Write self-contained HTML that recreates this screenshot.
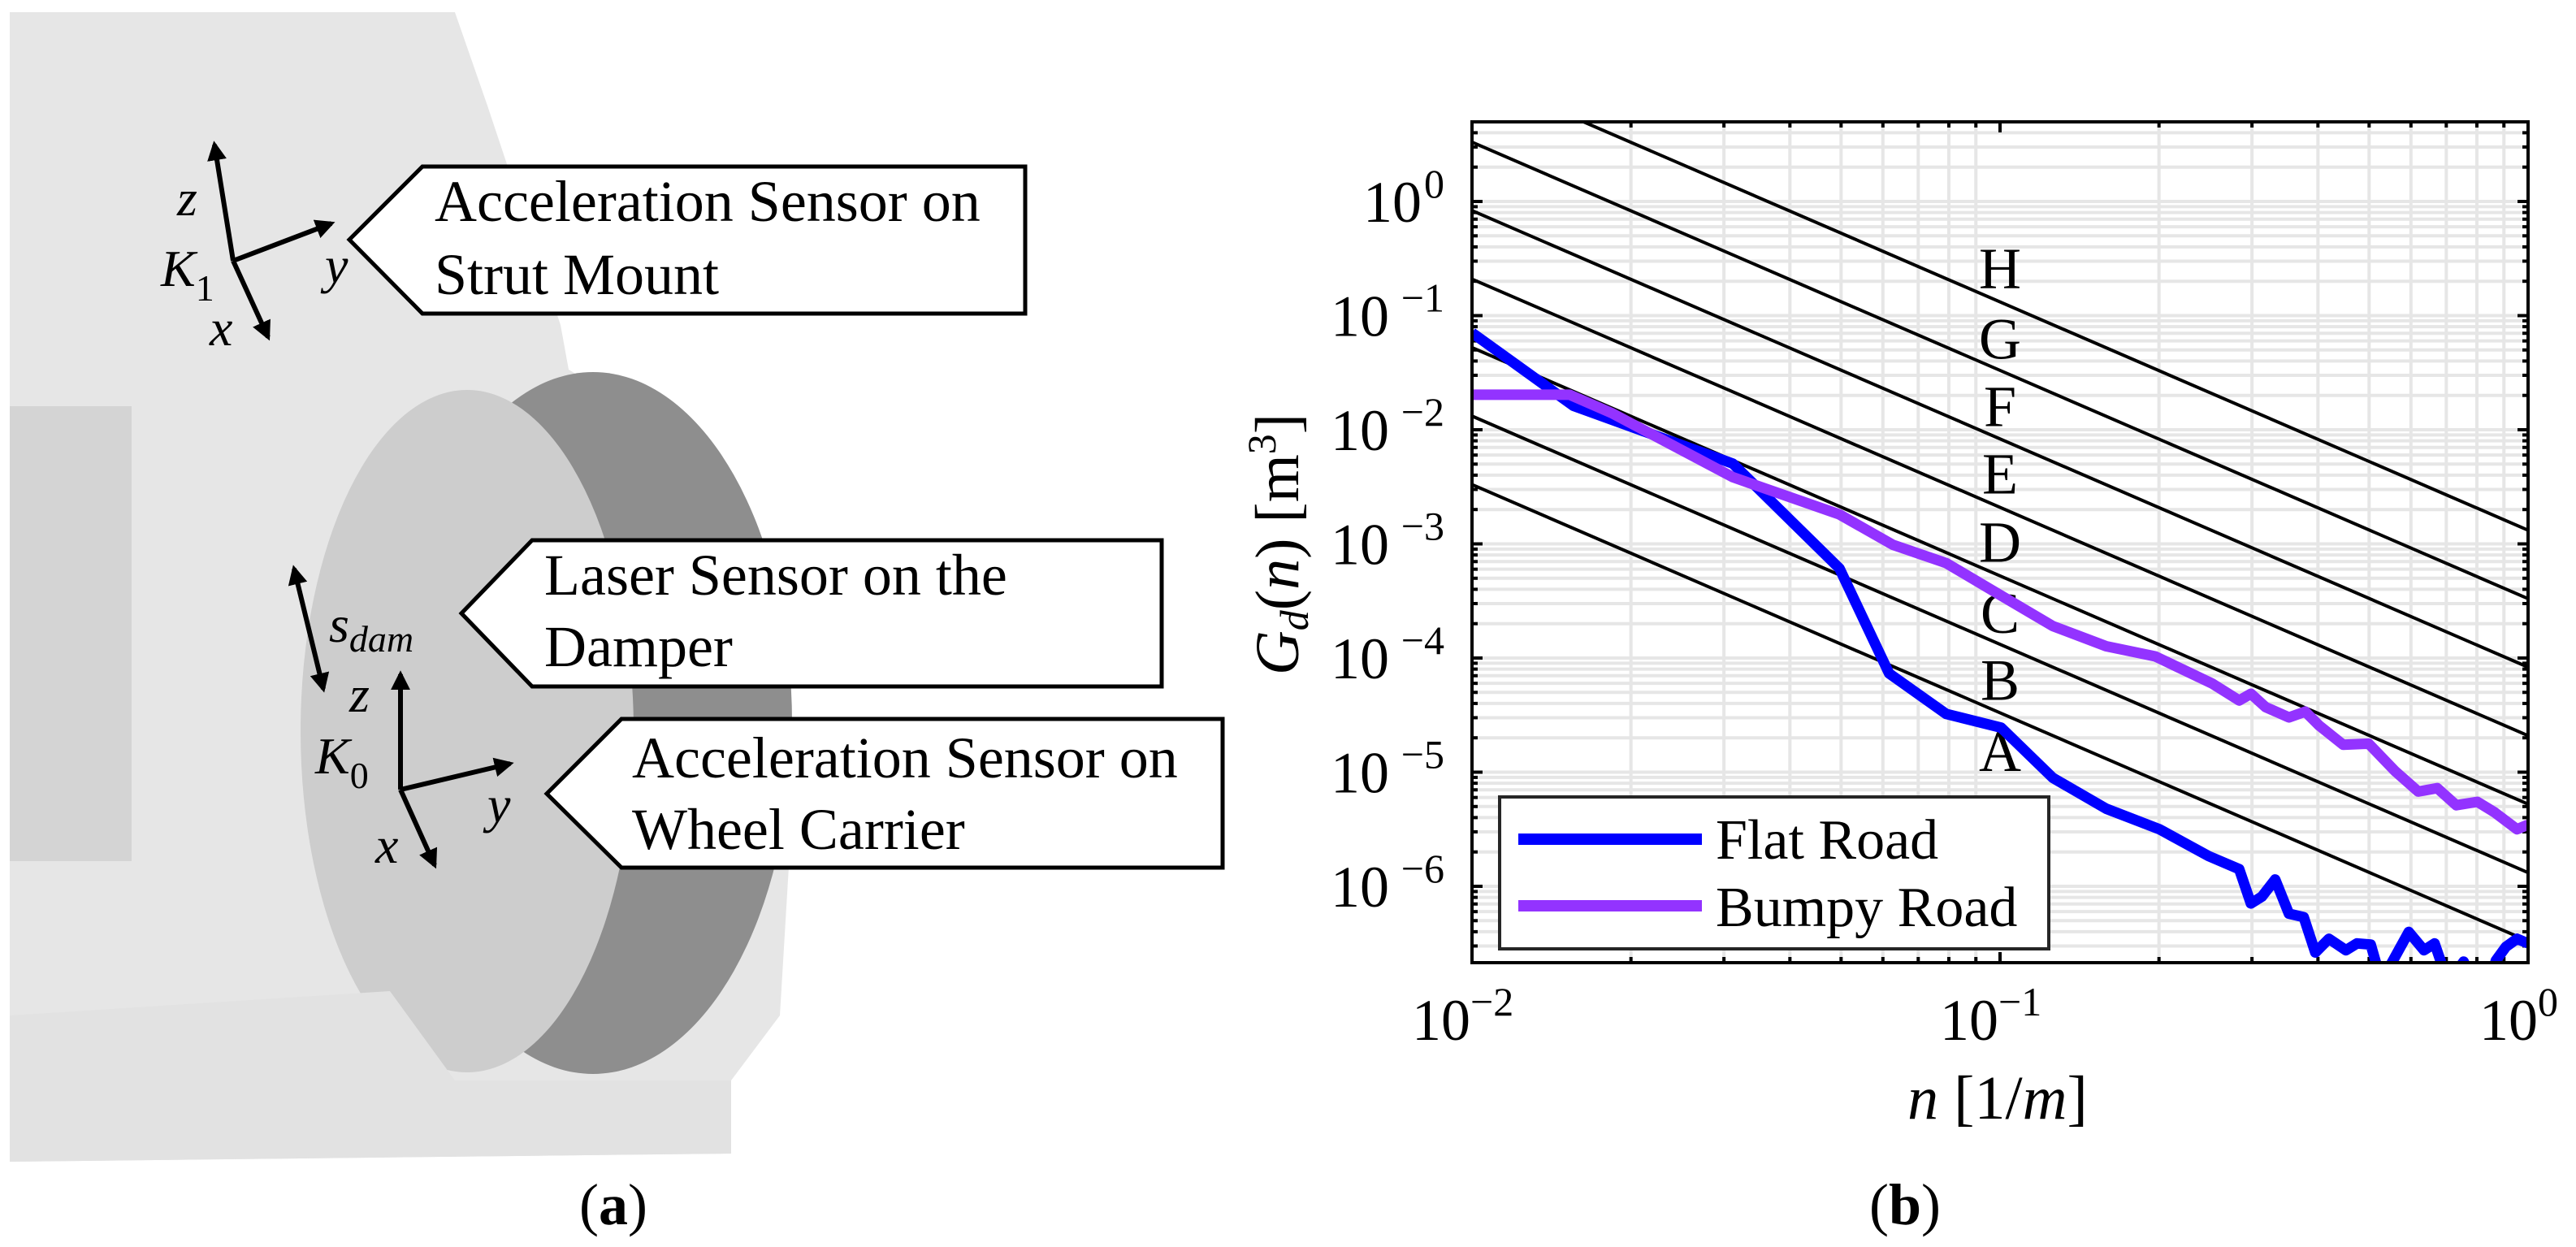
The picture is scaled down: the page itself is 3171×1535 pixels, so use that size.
<!DOCTYPE html>
<html><head><meta charset="utf-8"><style>
html,body{margin:0;padding:0;background:#fff;}
svg{display:block;}
text{font-family:"Liberation Serif",serif;}
</style></head><body>
<svg id="fig" width="3171" height="1535" viewBox="0 0 3171 1535" xmlns="http://www.w3.org/2000/svg">
<defs>
<marker id="ah" viewBox="0 0 10 10" refX="8" refY="5" markerWidth="4" markerHeight="4" orient="auto-start-reverse"><path d="M0,0 L10,5 L0,10 z" fill="#000"/></marker>
<clipPath id="plotclip"><rect x="1812" y="150" width="1300" height="1035"/></clipPath>
</defs>
<g>
<polygon points="12,15 560,15 600,130 690,400 700,455 880,560 960,800 975,1000 960,1250 900,1330 900,1420 12,1430" fill="#e6e6e6"/>
<ellipse cx="730" cy="890" rx="245" ry="432" fill="#8e8e8e"/>
<ellipse cx="575" cy="900" rx="205" ry="420" fill="#cdcdcd"/>
<polygon points="12,1250 480,1220 560,1330 900,1330 900,1420 12,1430" fill="#e2e2e2"/>
<rect x="12" y="500" width="150" height="560" fill="#d4d4d4"/>
</g>
<g stroke="#000" stroke-width="6" fill="none">
<line x1="287" y1="321" x2="264" y2="178" marker-end="url(#ah)"/>
<line x1="287" y1="321" x2="408" y2="275" marker-end="url(#ah)"/>
<line x1="287" y1="321" x2="330" y2="415" marker-end="url(#ah)"/>
<line x1="362" y1="700" x2="398" y2="848" marker-start="url(#ah)" marker-end="url(#ah)"/>
<line x1="493" y1="972" x2="493" y2="830" marker-end="url(#ah)"/>
<line x1="493" y1="972" x2="628" y2="940" marker-end="url(#ah)"/>
<line x1="493" y1="972" x2="535" y2="1065" marker-end="url(#ah)"/>
</g>
<g font-size="64" font-style="italic">
<text x="218" y="265">z</text>
<text x="198" y="352">K<tspan font-size="46" font-style="normal" dy="18">1</tspan></text>
<text x="400" y="348">y</text>
<text x="258" y="425">x</text>
<text x="405" y="790">s<tspan font-size="46" dy="12">dam</tspan></text>
<text x="430" y="876">z</text>
<text x="388" y="952">K<tspan font-size="46" font-style="normal" dy="18">0</tspan></text>
<text x="600" y="1012">y</text>
<text x="462" y="1062">x</text>
</g>
<g>
<polygon points="430,295 520,205 1262,205 1262,386 520,386" fill="#fff" stroke="#000" stroke-width="5"/>
<text x="535" y="272" font-size="72">Acceleration Sensor on</text>
<text x="535" y="362" font-size="72">Strut Mount</text>
</g>
<g>
<polygon points="568,755 655,665 1430,665 1430,845 655,845" fill="#fff" stroke="#000" stroke-width="5"/>
<text x="670" y="732" font-size="72">Laser Sensor on the</text>
<text x="670" y="820" font-size="72">Damper</text>
</g>
<g>
<polygon points="673,977 765,885 1505,885 1505,1068 765,1068" fill="#fff" stroke="#000" stroke-width="5"/>
<text x="778" y="957" font-size="72">Acceleration Sensor on</text>
<text x="778" y="1045" font-size="72">Wheel Carrier</text>
</g>
<text x="755" y="1507" font-size="72" text-anchor="middle">(<tspan font-weight="bold">a</tspan>)</text>
<text x="2345" y="1507" font-size="72" text-anchor="middle">(<tspan font-weight="bold">b</tspan>)</text>
<g id="chart"></g>
</svg>
<script>
const xTickExp = [-2, -1, 0];
const yTickExp = [0, -1, -2, -3, -4, -5, -6];
const classBoundaryLogAt01 = [-4.48, -3.88, -3.28, -2.68, -2.08, -1.48, -0.88];
const classLabels = ["A", "B", "C", "D", "E", "F", "G", "H"];
const classLabelLog = [-4.81, -4.19, -3.6, -2.98, -2.38, -1.79, -1.2, -0.58];
const flatLogN = [-2.0,-1.808,-1.506,-1.304,-1.21,-1.102,-0.998,-0.90,-0.799,-0.698,-0.605,-0.547,-0.525,-0.504,-0.479,-0.453,-0.425,-0.403,-0.377,-0.345,-0.324,-0.298,-0.28,-0.263,-0.226,-0.197,-0.177,-0.151,-0.122,-0.10,-0.07,-0.061,-0.042,-0.021,0.0];
const flatLogG = [-1.15,-1.79,-2.297,-3.216,-4.135,-4.49,-4.61,-5.05,-5.32,-5.50,-5.735,-5.85,-6.15,-6.09,-5.94,-6.24,-6.27,-6.58,-6.46,-6.56,-6.50,-6.51,-6.8,-6.71,-6.40,-6.56,-6.50,-6.85,-6.66,-6.9,-6.8,-6.65,-6.53,-6.46,-6.50];
const bumpyLogN = [-2.0,-1.815,-1.736,-1.506,-1.304,-1.203,-1.102,-0.998,-0.90,-0.799,-0.706,-0.598,-0.547,-0.525,-0.497,-0.453,-0.422,-0.396,-0.35,-0.302,-0.252,-0.208,-0.172,-0.136,-0.096,-0.064,-0.021,0.0];
const bumpyLogG = [-1.693,-1.693,-1.853,-2.416,-2.742,-3.008,-3.168,-3.453,-3.72,-3.897,-3.986,-4.224,-4.372,-4.313,-4.43,-4.52,-4.47,-4.59,-4.76,-4.75,-4.99,-5.17,-5.14,-5.29,-5.26,-5.35,-5.50,-5.46];

const X0=1812, X1=3112, Y0=150, Y1=1185;
const XMIN=-2, XMAX=0, YMAX=(248-150)/140.5, YMIN=YMAX-(Y1-Y0)/140.5;
function sx(l){return X0+(l-XMIN)/(XMAX-XMIN)*(X1-X0);}
function sy(l){return Y0+(YMAX-l)/(YMAX-YMIN)*(Y1-Y0);}
const NS="http://www.w3.org/2000/svg";
const chart=document.getElementById('chart');
function mk(tag,attrs,parent){const e=document.createElementNS(NS,tag);for(const k in attrs)e.setAttribute(k,attrs[k]);(parent||chart).appendChild(e);return e;}

const grid=mk('g',{});


const ticks=mk('g',{});


for(let d=XMIN; d<XMAX; d++){
  for(let m=1;m<10;m++){
    const l=d+Math.log10(m), x=sx(l);
    if(m>1){const g=mk('line',{x1:x,y1:Y0,x2:x,y2:Y1,stroke:'#e6e6e6','stroke-width':4},grid);
    
    }
    const len=m===1?13:7;
    mk('line',{x1:x,y1:Y1,x2:x,y2:Y1-len,stroke:'#000','stroke-width':4},ticks);
    mk('line',{x1:x,y1:Y0,x2:x,y2:Y0+len,stroke:'#000','stroke-width':4},ticks);
  }
}
for(let d=Math.floor(YMIN); d<Math.ceil(YMAX); d++){
  for(let m=1;m<10;m++){
    const l=d+Math.log10(m); if(l<YMIN||l>YMAX) continue; const y=sy(l);
    const g=mk('line',{x1:X0,y1:y,x2:X1,y2:y,stroke:'#e6e6e6','stroke-width':4},grid);
    
    
    const len=m===1?13:7;
    mk('line',{x1:X0,y1:y,x2:X0+len,y2:y,stroke:'#000','stroke-width':4},ticks);
    mk('line',{x1:X1,y1:y,x2:X1-len,y2:y,stroke:'#000','stroke-width':4},ticks);
  }
}
const cls=mk('g',{'clip-path':'url(#plotclip)'});


classBoundaryLogAt01.forEach(v=>{
  const f=l=>v-2*(l+1);
  const ln=mk('line',{x1:sx(-2),y1:sy(f(-2)),x2:sx(0),y2:sy(f(0)),stroke:'#000','stroke-width':4},cls);
  
  
});
classLabels.forEach((t,i)=>{
  const tx=mk('text',{x:sx(-1),y:sy(classLabelLog[i])+25,'font-size':72,'text-anchor':'middle'},cls);
  tx.textContent=t;
  
  
});
const ser=mk('g',{'clip-path':'url(#plotclip)'});
function line(ns,gs,color,name){
  const p=ns.map((n,i)=>sx(n).toFixed(1)+','+sy(gs[i]).toFixed(1)).join(' ');
  const pl=mk('polyline',{points:p,fill:'none',stroke:color,'stroke-width':13,'stroke-linejoin':'round'},ser);
  
  
}
line(flatLogN,flatLogG,'#0000ff','flat-road-line');
line(bumpyLogN,bumpyLogG,'#9333ff','bumpy-road-line');
const bd=mk('rect',{x:X0,y:Y0,width:X1-X0,height:Y1-Y0,fill:'none',stroke:'#000','stroke-width':4});


xTickExp.forEach(e=>{
  const x=sx(e);
  const t=mk('text',{x:x+(e<0?-2:12),y:1280,'font-size':72,'text-anchor':'end'});
  t.textContent='10';
  
  
  const s=mk('text',{x:x+(e<0?-2:12),y:1250,'font-size':50,'text-anchor':'start'});
  s.textContent=e===0?'0':'\u2212'+(-e);
  
  
});
yTickExp.forEach(e=>{
  const y=sy(e);
  const sup=e===0?'0':'\u2212'+(-e);
  const s=mk('text',{x:1778,y:y-5,'font-size':50,'text-anchor':'end'});
  s.textContent=sup;
  
  
  const w=e===0?28:68;
  const t=mk('text',{x:1778-w,y:y+25,'font-size':72,'text-anchor':'end'});
  t.textContent='10';
  
  
});
const xt=mk('text',{x:2459,y:1377,'font-size':76,'text-anchor':'middle'});
xt.innerHTML='<tspan font-style="italic">n</tspan> [1/<tspan font-style="italic">m</tspan>]';


const yt=mk('text',{x:0,y:0,'font-size':76,'text-anchor':'middle',transform:'translate(1598,670) rotate(-90)'});
yt.innerHTML='<tspan font-style="italic">G</tspan><tspan font-style="italic" font-size="50" dy="12">d</tspan><tspan dy="-12">(</tspan><tspan font-style="italic">n</tspan>) [m<tspan font-size="50" dy="-28">3</tspan><tspan dy="28">]</tspan>';


const lg=mk('g',{});


mk('rect',{x:1846,y:981,width:676,height:187,fill:'#fff',stroke:'#262626','stroke-width':4},lg);
const e1=mk('line',{x1:1869,y1:1033,x2:2095,y2:1033,stroke:'#0000ff','stroke-width':14},lg);


const t1=mk('text',{x:2112,y:1057,'font-size':70},lg);t1.textContent='Flat Road';
const e2=mk('line',{x1:1869,y1:1115,x2:2095,y2:1115,stroke:'#9333ff','stroke-width':14},lg);


const t2=mk('text',{x:2112,y:1140,'font-size':70},lg);t2.textContent='Bumpy Road';
</script>
</body></html>
